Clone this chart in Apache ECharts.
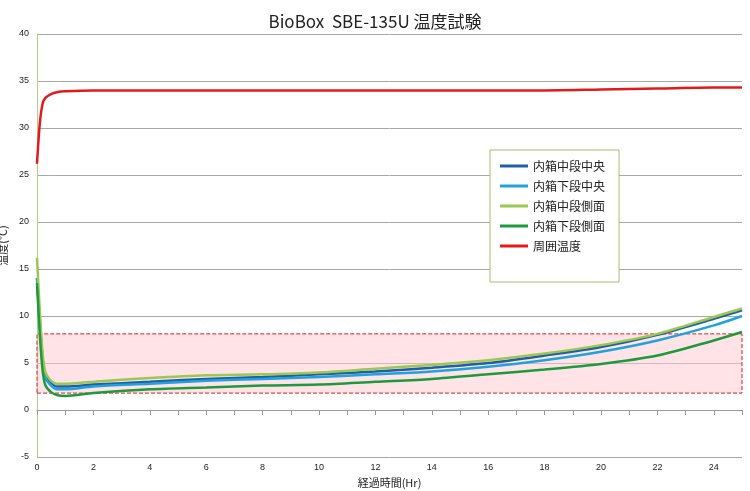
<!DOCTYPE html>
<html>
<head>
<meta charset="utf-8">
<script src="https://cdn.jsdelivr.net/npm/echarts@6/dist/echarts.min.js"></script>
<style>html,body{margin:0;padding:0;background:#fff}#c{width:750px;height:491px}</style>
</head>
<body>
<div id="c"></div>
<script>
// 時間（Hr）
const hours = [0, 0.1, 0.2, 0.3, 0.5, 0.7, 1, 2, 4, 6, 8, 10, 12, 14, 16, 18, 20, 22, 24, 25];
const midCenter  = [14.0, 9.5, 5.5, 3.8, 2.9, 2.5, 2.5, 2.7, 3.0, 3.3, 3.5, 3.8, 4.1, 4.5, 5.0, 5.8, 6.7, 8.0, 9.7, 10.6];
const lowCenter  = [14.0, 9.0, 5.0, 3.4, 2.6, 2.2, 2.2, 2.5, 2.8, 3.1, 3.3, 3.5, 3.8, 4.1, 4.6, 5.3, 6.2, 7.4, 9.0, 10.0];
const midSide    = [16.2, 10.5, 6.0, 4.0, 3.1, 2.8, 2.8, 3.0, 3.4, 3.7, 3.8, 4.0, 4.4, 4.8, 5.3, 6.0, 6.9, 8.1, 9.9, 10.8];
const lowSide    = [13.5, 8.0, 4.2, 2.6, 1.9, 1.6, 1.5, 1.8, 2.2, 2.4, 2.6, 2.7, 3.0, 3.3, 3.8, 4.3, 4.9, 5.8, 7.4, 8.3];
const ambient    = [26.2, 30.5, 32.6, 33.2, 33.6, 33.8, 33.9, 34.0, 34.0, 34.0, 34.0, 34.0, 34.0, 34.0, 34.0, 34.0, 34.1, 34.2, 34.3, 34.3];
const bandRange  = [1.8, 8.1];

const chart = echarts.init(document.getElementById('c'));
const pair = arr => hours.map((h, i) => [h, arr[i]]);
const line = (name, color, data) => ({
    name, type: 'line', data: pair(data), showSymbol: false, smooth: 0.3,
    lineStyle: { color, width: 2.5 }, itemStyle: { color }
});
const series = [
    line('内箱中段中央', '#1f5fa8', midCenter),
    line('内箱下段中央', '#1fa3dc', lowCenter),
    line('内箱中段側面', '#9bc850', midSide),
    line('内箱下段側面', '#1e9a3e', lowSide),
    line('周囲温度', '#e31a1c', ambient)
];
series[0].markArea = {
    silent: true,
    itemStyle: { color: 'rgba(255,200,205,0.5)', borderColor: '#d62020', borderWidth: 1, borderType: 'dashed' },
    data: [[{ xAxis: 0, yAxis: bandRange[0] }, { xAxis: 25, yAxis: bandRange[1] }]]
};
chart.setOption({
    title: { text: 'BioBox  SBE-135U 温度試験', left: 'center', top: 8, textStyle: { fontSize: 17, fontWeight: 'normal', color: '#222', fontFamily: 'Noto Sans CJK JP' } },
    legend: {
        orient: 'vertical', left: 490, top: 150, padding: [10, 14, 30, 10], itemGap: 8,
        borderColor: '#b0b870', borderWidth: 1, backgroundColor: '#fff',
        icon: 'rect', itemWidth: 28, itemHeight: 3,
        textStyle: { fontSize: 12, color: '#222', fontFamily: 'Noto Sans CJK JP' }
    },
    grid: { left: 37, right: 8, top: 34, bottom: 34, containLabel: false, outerBoundsMode: 'none' },
    xAxis: {
        type: 'value', min: 0, max: 25, interval: 1,
        name: '経過時間(Hr)', nameLocation: 'middle', nameGap: 14,
        nameTextStyle: { fontSize: 11, color: '#222', fontFamily: 'Noto Sans CJK JP' },
        axisLine: { lineStyle: { color: '#999' } },
        axisTick: { lineStyle: { color: '#999' } },
        axisLabel: { fontSize: 9, color: '#222', margin: 6, formatter: v => v % 2 === 0 ? v : '' },
        splitLine: { show: false }
    },
    yAxis: {
        type: 'value', min: -5, max: 40, interval: 5,
        name: '温度(℃)', nameLocation: 'middle', nameGap: 26, nameRotate: 90,
        nameTextStyle: { fontSize: 11, color: '#222', fontFamily: 'Noto Sans CJK JP' },
        axisLine: { show: true, lineStyle: { color: '#b5cc88' } },
        axisTick: { show: false },
        axisLabel: { fontSize: 9, color: '#222' },
        splitLine: { lineStyle: { color: '#a8a8a8' } }
    },
    series
});
</script>
</body>
</html>
